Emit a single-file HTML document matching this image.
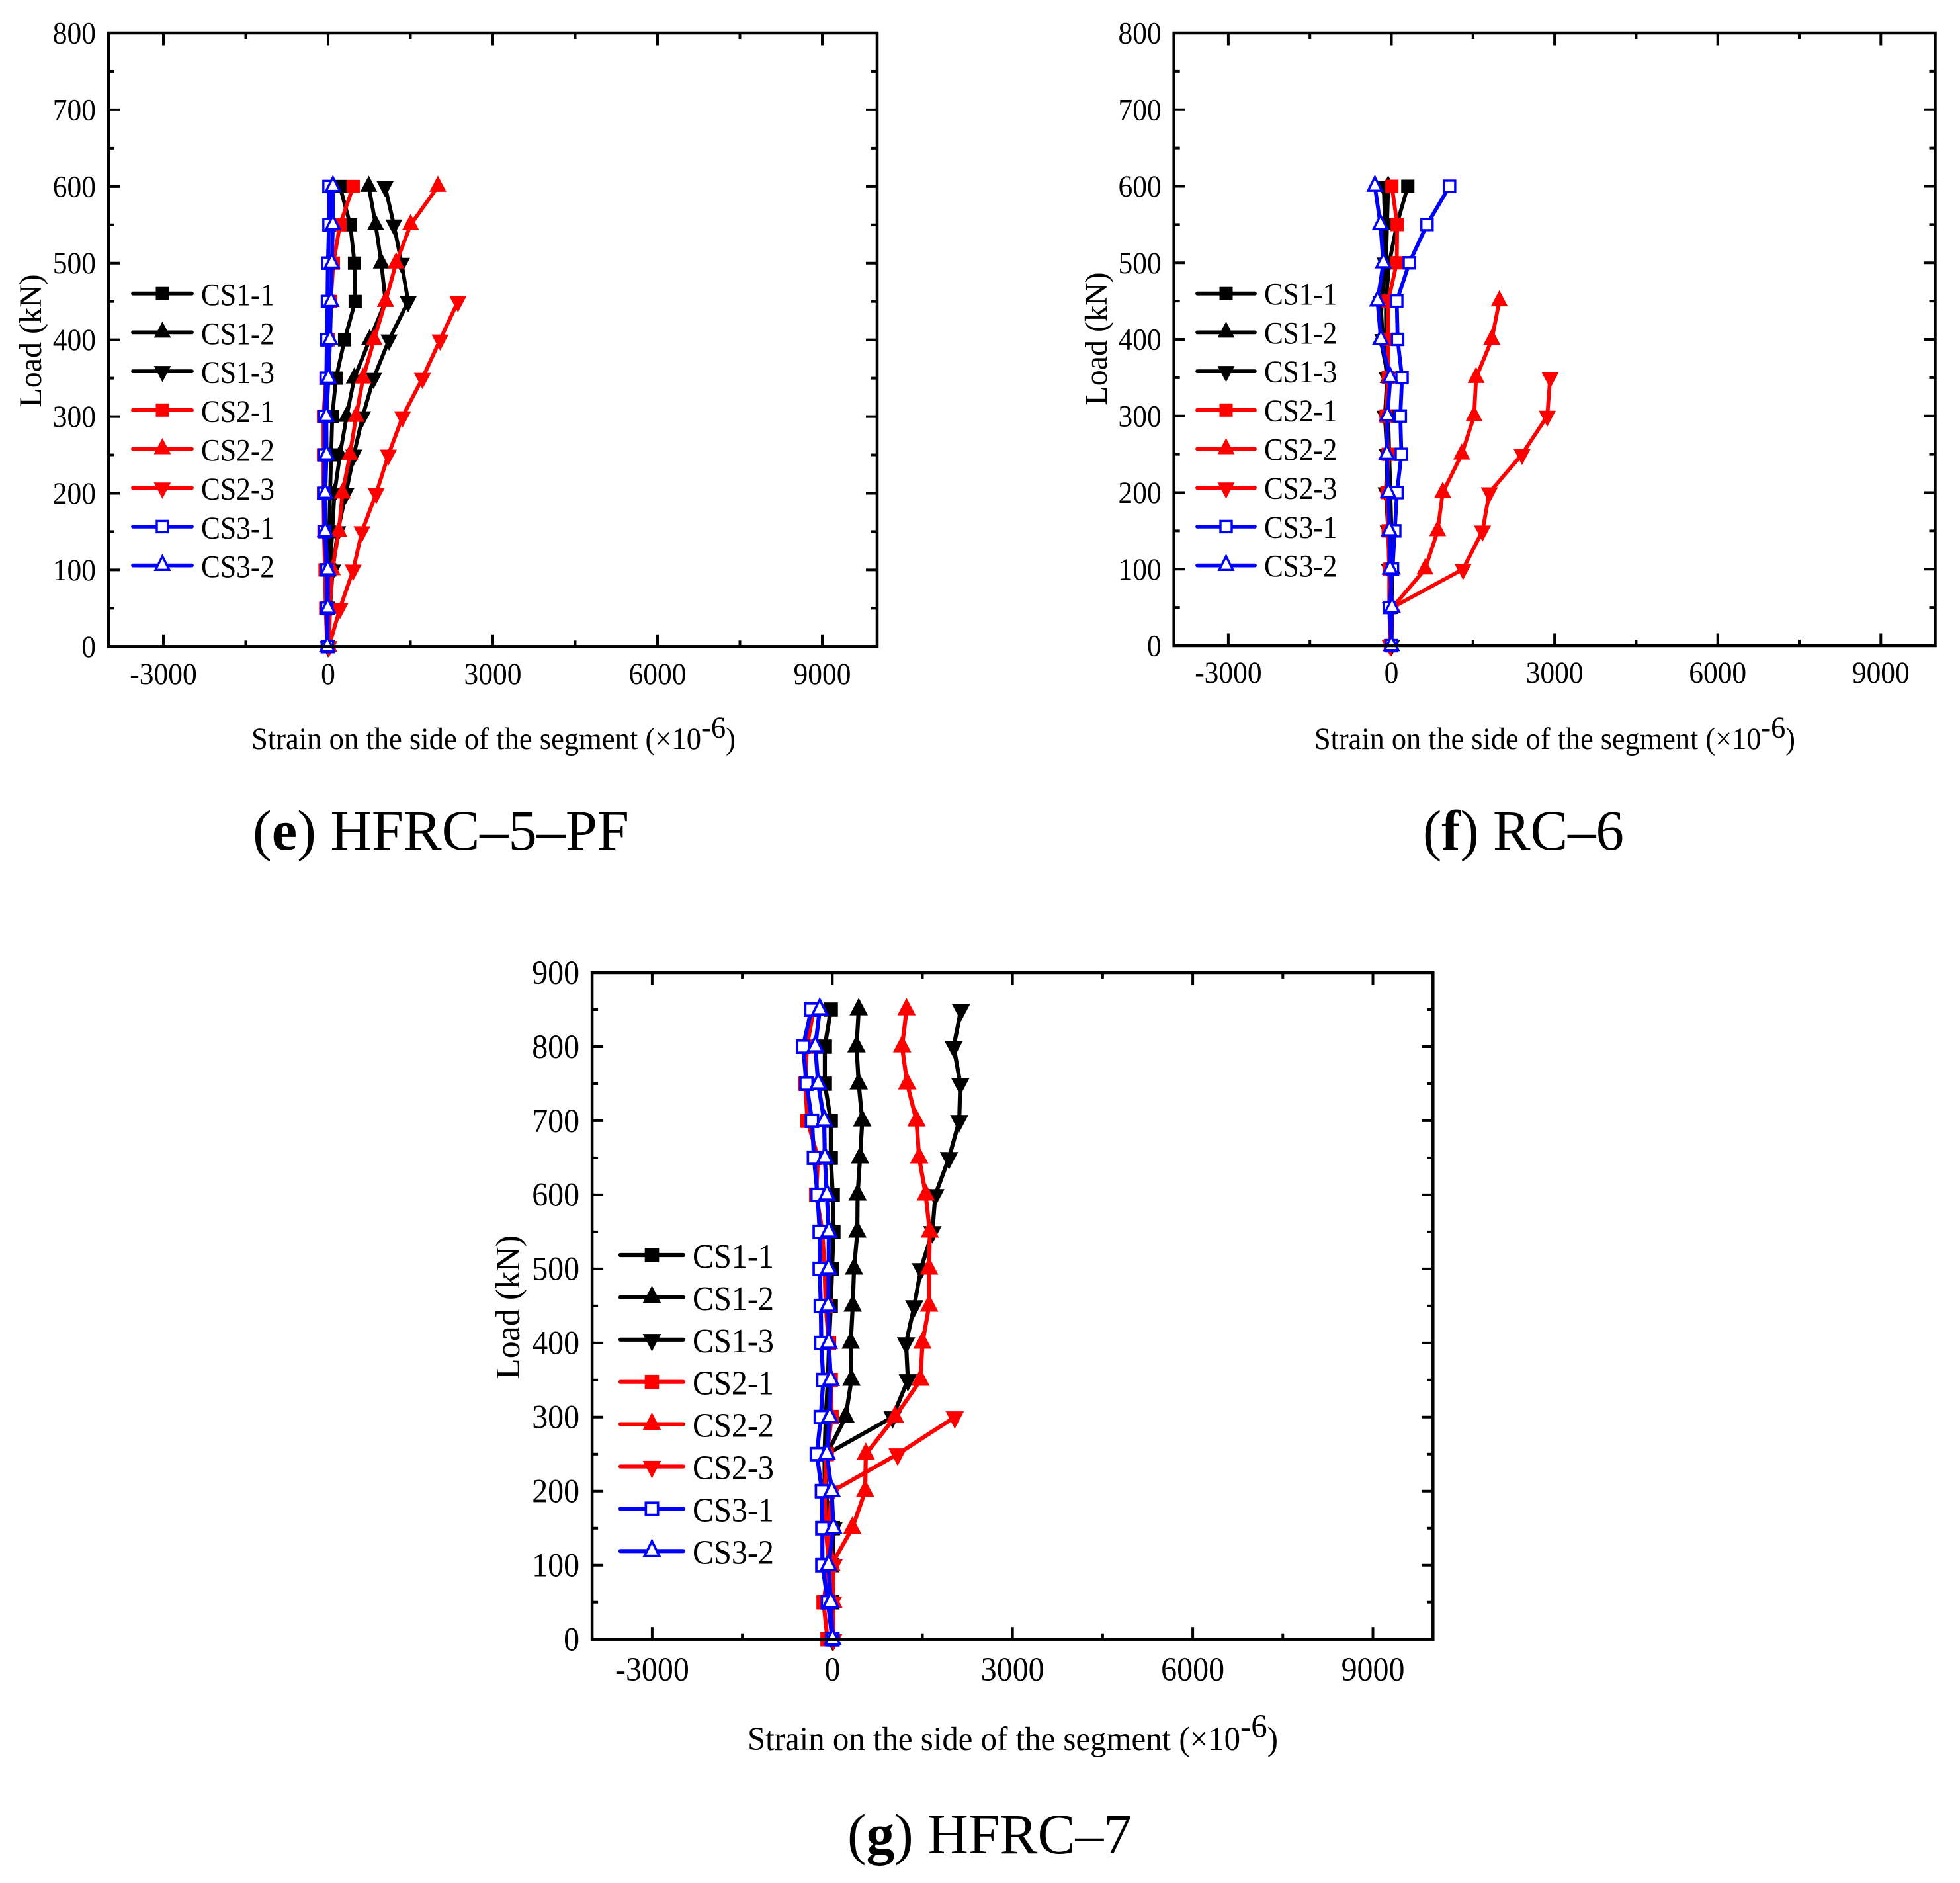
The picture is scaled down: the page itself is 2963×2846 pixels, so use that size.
<!DOCTYPE html>
<html lang="en">
<head>
<meta charset="utf-8">
<title>Load-strain charts</title>
<style>
html,body{margin:0;padding:0;background:#fff;}
#stage{display:block;width:2963px;height:2846px;font-family:"Liberation Serif",serif;fill:#000;}
</style>
</head>
<body>
<svg id="stage" xmlns="http://www.w3.org/2000/svg" width="2963" height="2846" viewBox="0 0 2963 2846">
<rect x="0" y="0" width="2963" height="2846" fill="#fff"/>

<g id="panel-e">
<text transform="translate(62,515) rotate(-90)" text-anchor="middle" font-size="48">Load (kN)</text>
<text x="380" y="1132" font-size="47" textLength="732" lengthAdjust="spacingAndGlyphs">Strain on the side of the segment (×10<tspan dy="-17">-6</tspan><tspan dy="17">)</tspan></text>
<text x="382" y="1284" font-size="86" textLength="569" lengthAdjust="spacingAndGlyphs">(<tspan font-weight="bold">e</tspan>) HFRC–5–PF</text>
</g>

<g id="panel-f">
<text transform="translate(1673,512) rotate(-90)" text-anchor="middle" font-size="48">Load (kN)</text>
<text x="1987" y="1132" font-size="47" textLength="727" lengthAdjust="spacingAndGlyphs">Strain on the side of the segment (×10<tspan dy="-17">-6</tspan><tspan dy="17">)</tspan></text>
<text x="2151" y="1284" font-size="86" textLength="304" lengthAdjust="spacingAndGlyphs">(<tspan font-weight="bold">f</tspan>) RC–6</text>
</g>

<g id="panel-g">
<text transform="translate(785,1976) rotate(-90)" text-anchor="middle" font-size="52">Load (kN)</text>
<text x="1130" y="2645" font-size="51" textLength="802" lengthAdjust="spacingAndGlyphs">Strain on the side of the segment (×10<tspan dy="-19">-6</tspan><tspan dy="19">)</tspan></text>
<text x="1281" y="2801" font-size="86" textLength="430" lengthAdjust="spacingAndGlyphs">(<tspan font-weight="bold">g</tspan>) HFRC–7</text>
</g>
</svg>

<script>
// Shared tick labels and series names
const xTickValues = [-3000, 0, 3000, 6000, 9000];
const yTicksEF = [0, 100, 200, 300, 400, 500, 600, 700, 800];
const yTicksG = [0, 100, 200, 300, 400, 500, 600, 700, 800, 900];
const seriesNames = ['CS1-1', 'CS1-2', 'CS1-3', 'CS2-1', 'CS2-2', 'CS2-3', 'CS3-1', 'CS3-2'];
const seriesColors = ['#000', '#000', '#000', '#f00', '#f00', '#f00', '#00f', '#00f'];
const seriesShapes = ['square', 'up', 'down', 'square', 'up', 'down', 'open-square', 'open-up'];

// Load steps (kN), shared by index with every strain series
const loadsEF = [0, 50, 100, 150, 200, 250, 300, 350, 400, 450, 500, 550, 600];
const loadsG = [0, 50, 100, 150, 200, 250, 300, 350, 400, 450, 500, 550, 600, 650, 700, 750, 800, 850];

// Panel (e) HFRC-5-PF strains
const eCS11 = [0, 10, 30, 20, 36, 56, 76, 144, 300, 493, 481, 404, 216];
const eCS12 = [0, 16, 36, 76, 116, 216, 337, 477, 757, 1046, 970, 866, 741];
const eCS13 = [0, 36, 84, 176, 325, 469, 629, 829, 1110, 1459, 1338, 1198, 1038];
const eCS21 = [-16, -44, -56, -76, -84, -84, -84, -40, 4, 48, 96, 216, 457];
const eCS22 = [16, 36, 76, 196, 260, 397, 509, 637, 837, 1046, 1238, 1503, 2000];
const eCS23 = [16, 216, 457, 617, 877, 1098, 1358, 1719, 2040, 2365];
const eCS31 = [-12, -24, -24, -64, -76, -64, -64, -32, -24, -12, -4, 16, 16];
const eCS32 = [-12, -4, -4, -52, -52, -28, -32, 8, 36, 56, 68, 88, 88];

// Panel (f) RC-6 strains
const fCS11 = [0, 0, 0, 0, -20, -40, -60, -60, -100, -100, -40, 100, 301];
const fCS12 = [0, 0, 20, -20, -60, -80, -80, -60, -200, -180, -100, -80, -60];
const fCS13 = [0, -20, -40, -60, -100, -80, -120, -80, -160, -200, -120, -120, -142];
const fCS21 = [-20, -40, -40, -60, -80, -60, -100, -60, -60, -60, 98, 106, 8];
const fCS22 = [0, 20, 618, 850, 943, 1293, 1520, 1557, 1846, 1984];
const fCS23 = [-20, 20, 1317, 1675, 1801, 2402, 2866, 2919];
const fCS31 = [0, -40, 20, 61, 102, 183, 163, 195, 114, 98, 329, 654, 1069];
const fCS32 = [0, 12, -24, -37, -57, -85, -73, -20, -195, -256, -150, -203, -305];

// Panel (g) HFRC-7 strains
const gCS11 = [0, 0, 0, 10, -129, -130, -110, -74, -55, -26, -4, 18, 7, -26, -26, -125, -125, -26];
const gCS12 = [0, 0, -18, -37, -110, -92, 221, 317, 306, 339, 361, 416, 420, 461, 498, 439, 402, 439];
const gCS13 = [0, 0, 18, 18, -147, -92, 1003, 1257, 1227, 1364, 1474, 1666, 1714, 1942, 2112, 2130, 2020, 2142];
const gCS21 = [-81, -147, -55, -110, -129, -92, -11, -26, -59, -110, -130, -166, -269, -240, -413, -453, -424, -313];
const gCS22 = [0, 18, -18, 332, 546, 557, 1043, 1467, 1500, 1611, 1611, 1622, 1555, 1445, 1401, 1246, 1161, 1235];
const gCS23 = [18, 10, 18, -70, 0, 1087, 2038];
const gCS31 = [0, -74, -166, -166, -173, -258, -192, -151, -184, -192, -210, -210, -247, -306, -339, -431, -487, -350];
const gCS32 = [4, -26, -63, 18, -11, -92, -44, -26, -59, -70, -63, -59, -92, -125, -136, -236, -284, -210];

const SVGNS = 'http://www.w3.org/2000/svg';

function make(tag, parent) {
  const el = document.createElementNS(SVGNS, tag);
  
  parent.appendChild(el);
  return el;
}

function drawMarker(parent, shape, color, cx, cy, k) {
  let el;
  const open = shape.indexOf('open') === 0;
  if (shape === 'square' || shape === 'open-square') {
    const half = (open ? 8.5 : 10) * k;
    el = make('rect', parent);
    el.setAttribute('x', cx - half);
    el.setAttribute('y', cy - half);
    el.setAttribute('width', half * 2);
    el.setAttribute('height', half * 2);
  } else {
    const dir = (shape === 'down') ? 1 : -1;
    const inset = open ? 2.6 : 0;
    const w = (12.9 - inset) * k;
    const tip = (16.5 - inset) * k;
    const base = (8 - inset * 0.5) * k;
    el = make('polygon', parent);
    el.setAttribute('points', [
      cx + ',' + (cy + dir * tip),
      (cx - w) + ',' + (cy - dir * base),
      (cx + w) + ',' + (cy - dir * base)
    ].join(' '));
  }
  
  if (open) {
    el.setAttribute('fill', '#fff');
    el.setAttribute('stroke', color);
    el.setAttribute('stroke-width', 3.4 * k);
  } else {
    el.setAttribute('fill', color);
  }
}

function renderPanel(cfg) {
  const root = document.getElementById(cfg.id);
  const xScale = function (v) { return cfg.zeroX + v * cfg.pxPerStrain; };
  const yScale = function (v) { return cfg.bottom - v * (cfg.bottom - cfg.top) / cfg.yMax; };
  const left = xScale(-4000);
  const right = xScale(10000);

  // ticks
  const ticks = make('g', root);
  
  for (let v = -3000; v <= 9000; v += 1500) {
    const len = (v % 3000 === 0) ? 18.5 : 9;
    [[cfg.bottom, -1], [cfg.top, 1]].forEach(function (pair) {
      const t = make('line', ticks);
      
      t.setAttribute('x1', xScale(v));
      t.setAttribute('x2', xScale(v));
      t.setAttribute('y1', pair[0]);
      t.setAttribute('y2', pair[0] + pair[1] * len);
      t.setAttribute('stroke', '#000');
      t.setAttribute('stroke-width', 4);
    });
  }
  for (let v = 50; v < cfg.yMax; v += 50) {
    const len = (v % 100 === 0) ? 17 : 9;
    [[left, 1], [right, -1]].forEach(function (pair) {
      const t = make('line', ticks);
      
      t.setAttribute('x1', pair[0]);
      t.setAttribute('x2', pair[0] + pair[1] * len);
      t.setAttribute('y1', yScale(v));
      t.setAttribute('y2', yScale(v));
      t.setAttribute('stroke', '#000');
      t.setAttribute('stroke-width', 4);
    });
  }

  // tick labels
  xTickValues.forEach(function (v) {
    const t = make('text', root);
    
    t.setAttribute('transform', 'translate(' + xScale(v) + ',' + cfg.xLabelY + ') scale(' + cfg.tickSqueeze + ',1)');
    t.setAttribute('text-anchor', 'middle');
    t.setAttribute('font-size', cfg.fontSize);
    t.textContent = String(v);
  });
  cfg.yTicks.forEach(function (v) {
    const t = make('text', root);
    
    t.setAttribute('transform', 'translate(' + (left - 19) + ',' + (yScale(v) + cfg.fontSize * 0.33) + ') scale(' + cfg.tickSqueeze + ',1)');
    t.setAttribute('text-anchor', 'end');
    t.setAttribute('font-size', cfg.fontSize);
    t.textContent = String(v);
  });

  // series
  cfg.series.forEach(function (values, s) {
    const group = make('g', root);
    
    const pts = values.map(function (v, i) {
      return xScale(v) + ',' + yScale(cfg.loads[i]);
    }).join(' ');
    const line = make('polyline', group);
    
    line.setAttribute('points', pts);
    line.setAttribute('fill', 'none');
    line.setAttribute('stroke', seriesColors[s]);
    line.setAttribute('stroke-width', cfg.lineWidth);
    line.setAttribute('stroke-linejoin', 'round');
    values.forEach(function (v, i) {
      drawMarker(group, seriesShapes[s], seriesColors[s], xScale(v), yScale(cfg.loads[i]), cfg.markerScale);
    });
  });

  // frame on top
  const frame = make('rect', root);
  
  frame.setAttribute('x', left);
  frame.setAttribute('y', cfg.top);
  frame.setAttribute('width', right - left);
  frame.setAttribute('height', cfg.bottom - cfg.top);
  frame.setAttribute('fill', 'none');
  frame.setAttribute('stroke', '#000');
  frame.setAttribute('stroke-width', 4.5);

  // legend
  const legend = make('g', root);
  
  seriesNames.forEach(function (name, s) {
    const rowY = cfg.legendY + s * cfg.legendStep;
    const entry = make('g', legend);
    
    const sample = make('line', entry);
    
    sample.setAttribute('x1', cfg.legendX + 3);
    sample.setAttribute('x2', cfg.legendX + cfg.legendLen - 3);
    sample.setAttribute('y1', rowY);
    sample.setAttribute('y2', rowY);
    sample.setAttribute('stroke', seriesColors[s]);
    sample.setAttribute('stroke-width', cfg.lineWidth);
    sample.setAttribute('stroke-linecap', 'round');
    drawMarker(entry, seriesShapes[s], seriesColors[s], cfg.legendX + cfg.legendLen / 2, rowY, cfg.markerScale);
    const label = make('text', entry);
    
    label.setAttribute('transform', 'translate(' + (cfg.legendX + cfg.legendLen + 11) + ',' + (rowY + cfg.legendDrop) + ') scale(' + cfg.legendSqueeze + ',1)');
    label.setAttribute('font-size', cfg.legendFont);
    label.textContent = name;
  });
}

renderPanel({
  id: 'panel-e', zeroX: 496, pxPerStrain: 0.083, top: 50, bottom: 977.3, yMax: 800,
  yTicks: yTicksEF, loads: loadsEF, fontSize: 47, tickSqueeze: 0.925, xLabelY: 1034, lineWidth: 5.8, markerScale: 1,
  legendX: 198, legendLen: 95, legendY: 443.7, legendStep: 58.7, legendFont: 48, legendSqueeze: 0.905, legendDrop: 18,
  series: [eCS11, eCS12, eCS13, eCS21, eCS22, eCS23, eCS31, eCS32]
});
renderPanel({
  id: 'panel-f', zeroX: 2103.5, pxPerStrain: 0.0822, top: 50, bottom: 976, yMax: 800,
  yTicks: yTicksEF, loads: loadsEF, fontSize: 47, tickSqueeze: 0.925, xLabelY: 1032, lineWidth: 5.8, markerScale: 1,
  legendX: 1807, legendLen: 93, legendY: 443.7, legendStep: 58.7, legendFont: 48, legendSqueeze: 0.9, legendDrop: 17,
  series: [fCS11, fCS12, fCS13, fCS21, fCS22, fCS23, fCS31, fCS32]
});
renderPanel({
  id: 'panel-g', zeroX: 1258.3, pxPerStrain: 0.0908, top: 1470, bottom: 2477.7, yMax: 900,
  yTicks: yTicksG, loads: loadsG, fontSize: 51, tickSqueeze: 0.94, xLabelY: 2540, lineWidth: 6.2, markerScale: 1.08,
  legendX: 935, legendLen: 101, legendY: 1897, legendStep: 63.9, legendFont: 52, legendSqueeze: 0.925, legendDrop: 19,
  series: [gCS11, gCS12, gCS13, gCS21, gCS22, gCS23, gCS31, gCS32]
});
</script>
</body>
</html>
